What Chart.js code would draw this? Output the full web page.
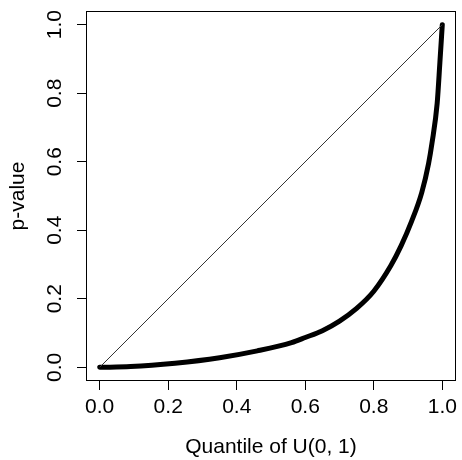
<!DOCTYPE html>
<html>
<head>
<meta charset="utf-8">
<script src="https://cdn.jsdelivr.net/npm/chart.js@4/dist/chart.umd.min.js"></script>
<style>
  html, body { margin: 0; padding: 0; background: #fff; }
  #wrap { width: 462px; height: 460px; }
</style>
</head>
<body>
<div id="wrap"><canvas id="qqChart" width="462" height="460"></canvas></div>
<script>
// --- data ---
const quantiles = [0.00, 0.09, 0.22, 0.35, 0.46, 0.56, 0.60, 0.65, 0.70, 0.75, 0.80, 0.85, 0.88, 0.91, 0.94, 0.96, 0.97, 0.985, 0.993, 1.00];
const pValues   = [0.000, 0.002, 0.012, 0.028, 0.048, 0.072, 0.087, 0.107, 0.135, 0.172, 0.222, 0.297, 0.355, 0.425, 0.510, 0.595, 0.655, 0.770, 0.890, 1.000];
const diagX = [0, 1];
const diagY = [0, 1];
const xTicks = [0, 0.2, 0.4, 0.6, 0.8, 1.0];
const yTicks = [0, 0.2, 0.4, 0.6, 0.8, 1.0];

const FONT = "'Liberation Sans', Arial, sans-serif";

// box around the plot region, like R's box()
const boxPlugin = {
  id: 'box',
  afterDraw(chart) {
    const { ctx, chartArea: a } = chart;
    ctx.save();
    ctx.strokeStyle = '#000';
    ctx.lineWidth = 1;
    ctx.strokeRect(Math.round(a.left) + 0.5, Math.round(a.top) + 0.5,
                   Math.round(a.right - a.left) - 1, Math.round(a.bottom - a.top) - 1);
    ctx.restore();
  }
};

// rotated y tick labels (R draws them parallel to the axis)
const yLabelPlugin = {
  id: 'yLabels',
  afterDraw(chart) {
    const { ctx } = chart;
    const y = chart.scales.y;
    ctx.save();
    ctx.fillStyle = '#000';
    ctx.font = '21px ' + FONT;
    ctx.textAlign = 'center';
    ctx.textBaseline = 'middle';
    yTicks.forEach(v => {
      ctx.save();
      ctx.translate(55, y.getPixelForValue(v));
      ctx.rotate(-Math.PI / 2);
      ctx.fillText(v.toFixed(1), 0, 0);
      ctx.restore();
    });
    ctx.restore();
  }
};

const ctx = document.getElementById('qqChart').getContext('2d');
new Chart(ctx, {
  type: 'line',
  data: {
    datasets: [
      {
        label: 'diagonal',
        data: diagX.map((x, i) => ({ x: x, y: diagY[i] })),
        borderColor: '#333',
        borderWidth: 1,
        pointRadius: 0,
        fill: false
      },
      {
        label: 'p-values',
        data: quantiles.map((q, i) => ({ x: q, y: pValues[i] })),
        borderColor: '#000',
        borderWidth: 5,
        borderCapStyle: 'round',
        borderJoinStyle: 'round',
        cubicInterpolationMode: 'monotone',
        pointRadius: 0,
        fill: false
      }
    ]
  },
  options: {
    responsive: false,
    animation: false,
    layout: { padding: { left: 0, top: 11, right: 3, bottom: 0 } },
    plugins: { legend: { display: false }, tooltip: { enabled: false } },
    scales: {
      x: {
        type: 'linear',
        min: -0.04, max: 1.04,
        afterBuildTicks: s => { s.ticks = xTicks.map(v => ({ value: v })); },
        afterFit: s => { s.height = 79; },
        grid: { display: true, drawOnChartArea: false, drawTicks: true, tickLength: 9, color: '#000', lineWidth: 1 },
        border: { display: false },
        ticks: {
          autoSkip: false, maxRotation: 0, padding: 5, color: '#000',
          font: { family: FONT, size: 21 },
          callback: v => Number(v).toFixed(1)
        },
        title: {
          display: true, text: 'Quantile of U(0, 1)', color: '#000',
          font: { family: FONT, size: 21 }, padding: { top: 0, bottom: 0 }
        }
      },
      y: {
        type: 'linear',
        min: -0.04, max: 1.04,
        afterBuildTicks: s => { s.ticks = yTicks.map(v => ({ value: v })); },
        afterFit: s => { s.width = 86; },
        grid: { display: true, drawOnChartArea: false, drawTicks: true, tickLength: 9, color: '#000', lineWidth: 1 },
        border: { display: false },
        ticks: { display: false },
        title: {
          display: true, text: 'p-value', color: '#000',
          font: { family: FONT, size: 21 }, padding: { top: 6, bottom: 0 }
        }
      }
    }
  },
  plugins: [boxPlugin, yLabelPlugin]
});
</script>
</body>
</html>
